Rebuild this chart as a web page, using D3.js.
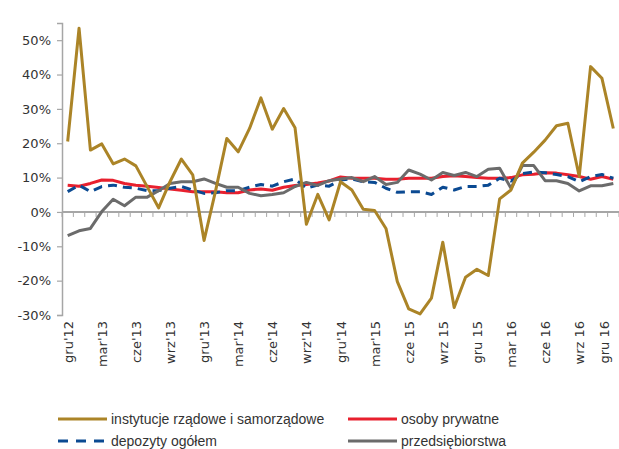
<!DOCTYPE html>
<html><head><meta charset="utf-8">
<script src="https://cdn.jsdelivr.net/npm/d3@7"></script>
<style>body{margin:0;background:#fff}svg{display:block}</style>
</head><body>
<svg id="c" width="619" height="449"></svg>
<script>
const categories = [
  "gru'12","sty'13","lut'13","mar'13","kwi'13","maj'13","cze'13","lip'13","sie'13","wrz'13","paź'13","lis'13",
  "gru'13","sty'14","lut'14","mar'14","kwi'14","maj'14","cze'14","lip'14","sie'14","wrz'14","paź'14","lis'14",
  "gru'14","sty'15","lut'15","mar'15","kwi 15","maj 15","cze 15","lip 15","sie 15","wrz 15","paź 15","lis 15",
  "gru 15","sty 16","lut 16","mar 16","kwi 16","maj 16","cze 16","lip 16","sie 16","wrz 16","paź 16","lis 16",
  "gru 16"];
const tickLabels = ["gru'12","mar'13","cze'13","wrz'13","gru'13","mar'14","cze'14","wrz'14","gru'14","mar'15","cze 15","wrz 15","gru 15","mar 16","cze 16","wrz 16","gru 16"];
const yTicks = [-30,-20,-10,0,10,20,30,40,50];

const instytucje = [20.5,53.5,18,19.8,14,15.4,13.4,7.3,1.2,8.8,15.4,10.8,-8.3,6,21.4,17.5,24.3,33.2,24.1,30.1,24.5,-3.6,5.1,-2.3,8.8,6.4,0.8,0.4,-4.8,-20.3,-28.2,-29.7,-25.1,-8.8,-27.8,-19,-16.7,-18.5,3.8,6.4,14.2,17.4,20.9,25.1,25.8,10.3,42.3,38.9,24.3];
const osoby = [7.8,7.5,8.3,9.3,9.2,8.3,7.8,7.5,7.1,6.7,6.3,5.9,5.9,5.9,5.6,5.6,6.4,6.7,6.3,7.2,7.7,8.0,8.4,9.0,10.2,9.8,9.8,9.8,9.5,9.5,9.8,9.8,9.8,10.3,10.5,10.3,10.0,9.8,9.8,10.0,10.8,11.0,11.4,11.3,10.8,10.3,9.5,10.3,9.5];
const depozyty = [5.9,7.8,5.9,7.4,7.8,7.2,6.9,6.2,6.2,6.9,7.4,6.4,5.4,5.6,6.2,6.2,7.2,8.0,7.5,8.8,9.6,6.9,7.8,7.5,9.3,9.6,8.8,8.6,6.9,5.7,5.9,5.9,5.1,7.2,6.4,7.4,7.4,7.8,9.8,9.0,11.2,11.6,11.4,10.9,10.3,8.8,10.3,10.9,9.8];
const przedsiebiorstwa = [-6.9,-5.5,-4.8,0.1,3.7,1.8,4.3,4.3,6.2,8.3,8.8,8.8,9.6,8.3,7.2,7.2,5.4,4.7,5.1,5.6,7.4,8.6,7.7,9.1,9.6,10.0,8.8,10.3,8.0,8.6,12.2,11.0,9.3,11.5,10.6,11.5,10.3,12.4,12.7,6.9,13.5,13.5,9.1,9.1,8.3,6.1,7.6,7.6,8.3];

const svg = d3.select("#c");
const mLeft = 62, mRight = 619, mTop = 23, mBottom = 315;
const x = d3.scaleBand().domain(categories).range([mLeft, mRight]);
const y = d3.scaleLinear().domain([-30, 55]).range([mBottom, mTop]);
const axisCol = "#a6a6a6";

// y axis
const ya = svg.append("g").attr("transform", `translate(${mLeft},0)`)
  .call(d3.axisLeft(y).tickValues(yTicks).tickFormat(d => d + "%").tickSize(5).tickPadding(6));
ya.select(".domain").attr("stroke", axisCol).attr("stroke-width", 1.5);
ya.selectAll(".tick line").attr("stroke", axisCol).attr("stroke-width", 1.2);
ya.selectAll("text").attr("font-family", "DejaVu Sans").attr("font-size", 13).attr("fill", "#333");

// zero line with ticks
const y0 = y(0);
svg.append("line").attr("x1", mLeft).attr("x2", mRight).attr("y1", y0).attr("y2", y0)
  .attr("stroke", axisCol).attr("stroke-width", 2);
const bounds = categories.map(c => x(c)).concat([x(categories[categories.length-1]) + x.bandwidth()]);
svg.append("g").selectAll("line").data(bounds).join("line")
  .attr("x1", d => d).attr("x2", d => d).attr("y1", y0).attr("y2", y0 + 5)
  .attr("stroke", axisCol).attr("stroke-width", 1);

// x labels
const cx = c => x(c) + x.bandwidth() / 2;
svg.append("g").selectAll("text").data(tickLabels).join("text")
  .attr("transform", d => `translate(${Math.min(cx(d) + 5, 609)},321) rotate(-90)`)
  .attr("text-anchor", "end")
  .attr("font-family", "DejaVu Sans").attr("font-size", 13).attr("fill", "#333")
  .text(d => d);

const series = [
  {name: "osoby prywatne", values: osoby, color: "#e8202e", dash: null},
  {name: "depozyty ogółem", values: depozyty, color: "#0b4a92", dash: "9,6"},
  {name: "przedsiębiorstwa", values: przedsiebiorstwa, color: "#6b6b6b", dash: null},
  {name: "instytucje rządowe i samorządowe", values: instytucje, color: "#ab8427", dash: null}
];
const line = d3.line().x((d, i) => cx(categories[i])).y(d => y(d));
series.forEach(s => {
  svg.append("path").datum(s.values).attr("d", line)
    .attr("fill", "none").attr("stroke", s.color).attr("stroke-width", 3)
    .attr("stroke-linejoin", "round")
    .attr("stroke-dasharray", s.dash);
});

// legend
const legendItems = [
  {s: series[3], lx: 58, ly: 419},
  {s: series[0], lx: 348, ly: 419},
  {s: series[1], lx: 58, ly: 441},
  {s: series[2], lx: 348, ly: 441}
];
const lg = svg.append("g");
legendItems.forEach(it => {
  lg.append("line").attr("x1", it.lx).attr("x2", it.lx + 49).attr("y1", it.ly).attr("y2", it.ly)
    .attr("stroke", it.s.color).attr("stroke-width", 3).attr("stroke-dasharray", it.s.dash ? "10,8" : null);
  lg.append("text").attr("x", it.lx + 53).attr("y", it.ly + 4.5)
    .attr("font-family", "Liberation Sans").attr("font-size", 14).attr("fill", "#333")
    .text(it.s.name);
});
</script>
</body></html>
